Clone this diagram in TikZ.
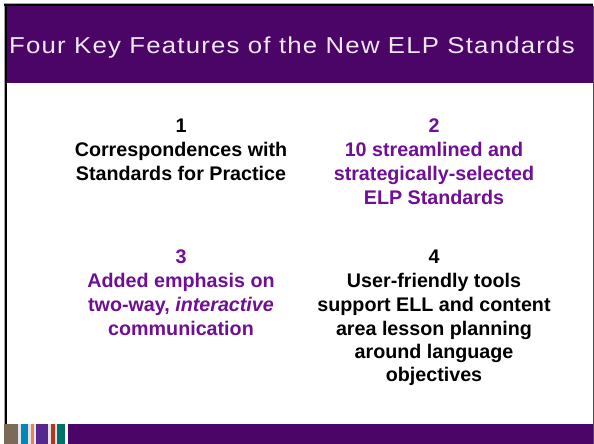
\documentclass[tikz,border=0pt]{standalone}
\usepackage{fontspec}
\setmainfont{Liberation Sans}
\newfontfamily\titlefont[LetterSpace=5.3,FakeStretch=1.12]{Liberation Sans}
\definecolor{bandpurple}{HTML}{4B0567}
\definecolor{textpurple}{HTML}{6F0F96}
\definecolor{titlewhite}{HTML}{F0E8F4}
\definecolor{palegap}{HTML}{E4E4EC}
\tikzset{
  featurenum/.style={font=\bfseries\fontsize{19.7}{24}\selectfont, inner sep=0pt, anchor=base, align=center},
  featurebody/.style={font=\bfseries\fontsize{19.7}{24}\selectfont, inner sep=0pt, anchor=base, align=center},
  stripe/.style={draw=none}
}
\begin{document}
\begin{tikzpicture}[x=1pt,y=-1pt]
\useasboundingbox (0,0) rectangle (594,444);
\fill[white] (0,0) rectangle (594,444);
% frame
\fill[gray!70] (3.5,3) rectangle (593,4);
\fill[gray!70] (4,4) rectangle (5,424);
\fill[black] (4,4) rectangle (593,6.3);
\fill[black] (5,4) rectangle (7,424);
\fill[black!70] (592.7,6) rectangle (593.7,444);
% bands
\fill[bandpurple] (7,6.3) rectangle (592.7,83);
\fill[bandpurple] (68,424) rectangle (592.7,444);
% strip
\fill[white] (4,423.5) rectangle (68,444);
\fill[palegap] (18,423.5) rectangle (65,444);
\fill[stripe,fill={rgb,255:red,123;green,106;blue,88}] (4,423.5) rectangle (18,444);
\fill[stripe,fill={rgb,255:red,0;green,135;blue,181}] (21,423.5) rectangle (28,444);
\fill[stripe,fill={rgb,255:red,240;green,130;blue,70}] (31,423.5) rectangle (34,444);
\fill[stripe,fill={rgb,255:red,86;green,40;blue,142}] (36,423.5) rectangle (48,444);
\fill[stripe,fill={rgb,255:red,192;green,48;blue,26}] (51,423.5) rectangle (55,444);
\fill[stripe,fill={rgb,255:red,0;green,112;blue,104}] (57,423.5) rectangle (65,444);
% title
\node[anchor=base west,inner sep=0pt,text=titlewhite,font=\titlefont\fontsize{23}{26}\selectfont] (title) at (9,53) {Four Key Features of the New ELP Standards};
% features
\node[featurenum] (n1) at (181,132.5) {1};
\node[featurebody] (b1) at (181,156.7) {Correspondences with};
\node[featurebody] (b1b) at (181,180.7) {Standards for Practice};
\node[featurenum,text=textpurple] (n2) at (434,132.5) {2};
\node[featurebody,text=textpurple] (b2a) at (434,156.7) {10 streamlined and};
\node[featurebody,text=textpurple] (b2b) at (434,180.7) {strategically-selected};
\node[featurebody,text=textpurple] (b2c) at (434,204.5) {ELP Standards};
\node[featurenum,text=textpurple] (n3) at (181,263) {3};
\node[featurebody,text=textpurple] (b3a) at (181,287) {Added emphasis on};
\node[featurebody,text=textpurple] (b3b) at (181,311) {two-way, \textit{interactive}};
\node[featurebody,text=textpurple] (b3c) at (181,335) {communication};
\node[featurenum] (n4) at (434,263) {4};
\node[featurebody] (b4a) at (434,287) {User-friendly tools};
\node[featurebody] (b4b) at (434,311) {support ELL and content};
\node[featurebody] (b4c) at (434,335) {area lesson planning};
\node[featurebody] (b4d) at (434,358) {around language};
\node[featurebody] (b4e) at (434,381) {objectives};
\end{tikzpicture}
\end{document}
